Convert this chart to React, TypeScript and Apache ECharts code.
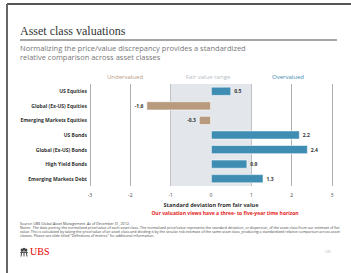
import React, { useEffect, useRef } from "react";
import * as echarts from "echarts";

const categories = [
  "US Equities",
  "Global (Ex-US) Equities",
  "Emerging Markets Equities",
  "US Bonds",
  "Global (Ex-US) Bonds",
  "High Yield Bonds",
  "Emerging Markets Debt",
];
const values = [0.5, -1.6, -0.3, 2.2, 2.4, 0.9, 1.3];
const xTicks = [-3, -2, -1, 0, 1, 2, 3];
const fairRange = [-1, 1];

const BLUE = "#3f8db3";
const TAN = "#b89a7f";

const noteLines = [
  "Notes:  The data portray the normalized price/value of each asset class. The normalized price/value represents the standard deviation, or dispersion, of the asset class from our estimate of fair",
  "value. This is calculated by taking the price/value of an asset class and dividing it by the secular risk estimate of the same asset class, producing a standardized relative comparison across asset",
  "classes. Please see slide titled \"Definitions of metrics\" for additional information.",
];

export default function App() {
  const ref = useRef<HTMLDivElement>(null);
  useEffect(() => {
    if (!ref.current) return;
    const chart = echarts.init(ref.current, undefined, { renderer: "svg" });
    const sans = "'Open Sans', 'Noto Sans', sans-serif";
    const serif = "'Liberation Serif', 'DejaVu Serif', serif";
    chart.setOption({
      animation: false,
      backgroundColor: "#ffffff",
      grid: { left: 90, width: 242, top: 84, height: 102, containLabel: false },
      xAxis: {
        type: "value",
        min: xTicks[0],
        max: xTicks[xTicks.length - 1],
        interval: 1,
        position: "bottom",
        axisLine: { show: false },
        axisTick: { show: false },
        splitLine: { show: true, lineStyle: { color: "#9a9a9a", width: 0.8 } },
        axisLabel: { fontSize: 5, color: "#444", margin: 6, fontFamily: sans },
        name: "Standard deviation from fair value",
        nameLocation: "middle",
        nameGap: 16,
        nameTextStyle: { fontSize: 5.5, color: "#333", fontFamily: sans, fontWeight: "bold" },
      },
      yAxis: {
        type: "category",
        data: categories,
        inverse: true,
        axisLine: { show: false },
        axisTick: { show: false },
        splitLine: { show: false },
        axisLabel: { fontSize: 5, color: "#333", fontWeight: "bold", margin: 3, fontFamily: sans },
      },
      series: [
        {
          type: "bar",
          barWidth: 9,
          data: values.map((v) => ({
            value: v,
            itemStyle: { color: v >= 0 ? BLUE : TAN },
            label: { position: v >= 0 ? "right" : "left" },
          })),
          itemStyle: { borderColor: "rgba(255,255,255,0.7)", borderWidth: 0.8 },
          label: {
            show: true,
            fontSize: 5,
            fontWeight: "bold",
            color: "#333",
            distance: 3,
            fontFamily: sans,
            formatter: (p: any) => String(p.value),
          },
          markArea: {
            silent: true,
            itemStyle: { color: "#e3e7ec" },
            data: [[{ xAxis: fairRange[0] }, { xAxis: fairRange[1] }]],
          },
          z: 3,
        },
      ],
      graphic: [
        { type: "line", shape: { x1: 7, y1: 4, x2: 351, y2: 4 }, style: { stroke: "#555", lineWidth: 2 } },
        { type: "line", shape: { x1: 7, y1: 4, x2: 7, y2: 273 }, style: { stroke: "#666", lineWidth: 2 } },
        {
          type: "text", left: 20, top: 25,
          style: { text: "Asset class valuations", font: `12px ${serif}`, fill: "#333" },
        },
        { type: "line", shape: { x1: 20, y1: 40, x2: 337, y2: 40 }, style: { stroke: "#888", lineWidth: 1.5 } },
        {
          type: "text", left: 20, top: 43,
          style: {
            text: "Normalizing the price/value discrepancy provides a standardized\nrelative comparison across asset classes",
            font: `7.5px ${sans}`, fill: "#777", lineHeight: 9,
          },
        },
        {
          type: "text", x: 125, y: 77,
          style: { text: "Undervalued", font: `6px ${sans}`, fill: TAN, align: "center", verticalAlign: "middle" },
        },
        {
          type: "text", x: 208, y: 77,
          style: { text: "Fair value range", font: `6px ${sans}`, fill: "#b6bec6", align: "center", verticalAlign: "middle" },
        },
        {
          type: "text", x: 288, y: 77,
          style: { text: "Overvalued", font: `6px ${sans}`, fill: BLUE, align: "center", verticalAlign: "middle" },
        },
        {
          type: "text", x: 225, y: 213,
          style: {
            text: "Our valuation views have a three- to five-year time horizon",
            font: `bold 5px ${sans}`, fill: "#e2231a", align: "center", verticalAlign: "middle",
          },
        },
        {
          type: "text", left: 20, top: 221,
          style: {
            text: "Source: UBS Global Asset Management. As of December 31, 2012.\n" + noteLines.join("\n"),
            font: `3.6px ${sans}`, fill: "#444", lineHeight: 4,
          },
        },
        {
          type: "group", x: 20, y: 248,
          children: [
            { type: "circle", shape: { cx: 2, cy: 2, r: 1.4 }, style: { fill: "#444" } },
            { type: "circle", shape: { cx: 4, cy: 1.2, r: 1.4 }, style: { fill: "#444" } },
            { type: "circle", shape: { cx: 6, cy: 2, r: 1.4 }, style: { fill: "#444" } },
            { type: "line", shape: { x1: 0, y1: 4.5, x2: 8, y2: 4.5 }, style: { stroke: "#444", lineWidth: 0.8 } },
            { type: "line", shape: { x1: 2, y1: 3, x2: 1, y2: 8.5 }, style: { stroke: "#444", lineWidth: 1 } },
            { type: "line", shape: { x1: 4, y1: 2.5, x2: 4, y2: 8.5 }, style: { stroke: "#444", lineWidth: 1 } },
            { type: "line", shape: { x1: 6, y1: 3, x2: 7, y2: 8.5 }, style: { stroke: "#444", lineWidth: 1 } },
          ],
        },
        {
          type: "text", left: 30, top: 246,
          style: { text: "UBS", font: `10px ${serif}`, fill: "#e60000" },
        },
        {
          type: "text", x: 328, y: 252,
          style: { text: "UBS", font: `3px ${sans}`, fill: "#bbb", align: "center", verticalAlign: "middle" },
        },
      ],
    });
    return () => chart.dispose();
  }, []);
  return (
    <div
      ref={ref}
      style={{ position: "absolute", left: 0, top: 0, width: 351, height: 273, background: "#fff" }}
    />
  );
}
